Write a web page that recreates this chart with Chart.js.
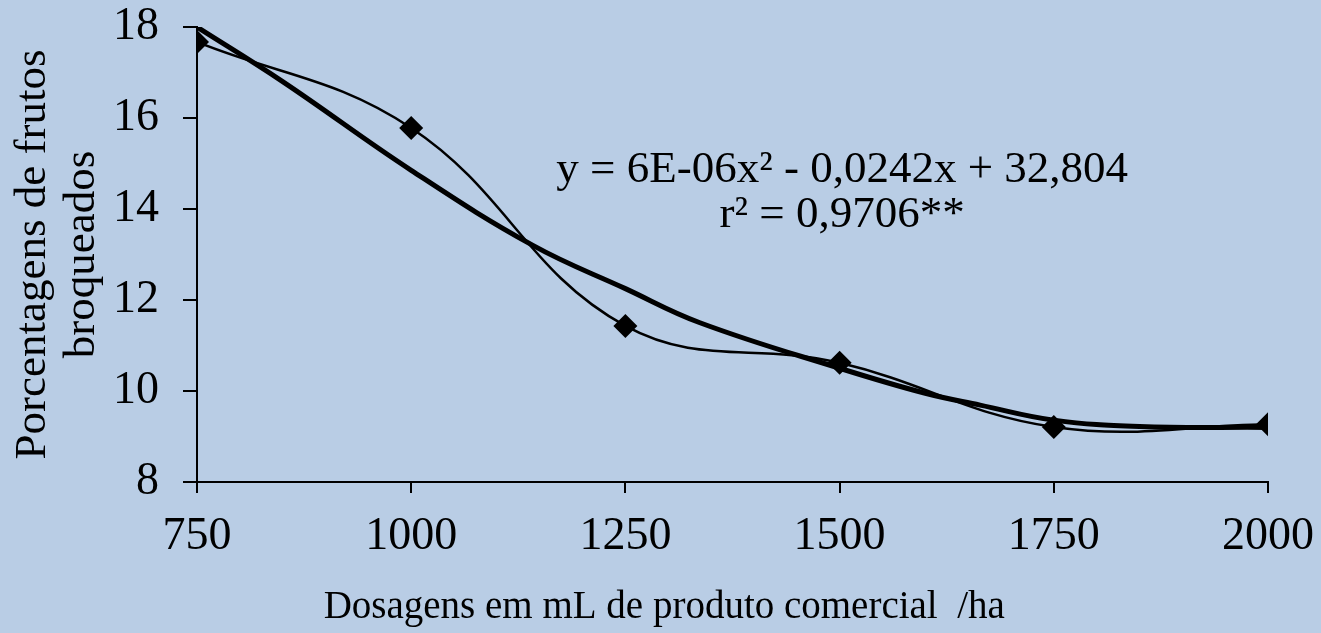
<!DOCTYPE html>
<html>
<head>
<meta charset="utf-8">
<script src="https://cdn.jsdelivr.net/npm/chart.js@4"></script>
<style>
  html, body { margin: 0; padding: 0; background: #b9cde5; }
  #wrap { width: 1321px; height: 633px; }
</style>
</head>
<body>
<div id="wrap"><canvas id="c"></canvas></div>
<script>
// --- DATA ---
const doses = [750, 1000, 1250, 1500, 1750, 2000];
const observed = [17.67, 15.78, 11.43, 10.62, 9.21, 9.27];
// thick fitted curve
const fitX = [750, 850, 1000, 1142, 1250, 1337, 1500, 1600, 1664, 1750, 1850, 2000];
const fitY = [18.0, 16.8, 14.85, 13.2, 12.25, 11.5, 10.5, 9.95, 9.69, 9.36, 9.22, 9.2];
const xTicks = [750, 1000, 1250, 1500, 1750, 2000];
const yTicks = [8, 10, 12, 14, 16, 18];
const eqLines = ['y = 6E-06x\u00b2 - 0,0242x + 32,804', 'r\u00b2 = 0,9706**'];

const FONT = '"Liberation Serif", "Times New Roman", serif';

// equation label drawn at data position
const eqPlugin = {
    id: 'eq',
    afterDatasetsDraw(chart) {
        const { ctx, scales: { x, y } } = chart;
        const cx = x.getPixelForValue(1503);
        ctx.save();
        ctx.fillStyle = '#000';
        ctx.font = `45px ${FONT}`;
        ctx.textAlign = 'center';
        ctx.textBaseline = 'alphabetic';
        ctx.fillText(eqLines[0], cx, y.getPixelForValue(14.6));
        ctx.fillText(eqLines[1], cx, y.getPixelForValue(13.6));
        ctx.restore();
    }
};

new Chart(document.getElementById('c'), {
    type: 'scatter',
    data: {
        datasets: [
            { label: 'fit', data: fitX.map((v, i) => ({ x: v, y: fitY[i] })), showLine: true, borderColor: '#000', borderWidth: 5, pointRadius: 0, tension: 0.4, order: 2 },
            { label: 'obs', data: doses.map((v, i) => ({ x: v, y: observed[i] })), showLine: true, borderColor: '#000', borderWidth: 2.5, backgroundColor: '#000', pointStyle: 'rectRot', pointRadius: 12, pointBorderWidth: 0, tension: 0.4, order: 1 }
        ]
    },
    options: {
        responsive: true,
        maintainAspectRatio: false,
        animation: false,
        layout: { padding: { left: 8, right: 53, top: 27, bottom: 0 } },
        plugins: { legend: { display: false }, tooltip: { enabled: false } },
        scales: {
            x: {
                type: 'linear', min: 750, max: 2000,
                afterBuildTicks: s => { s.ticks = xTicks.map(v => ({ value: v })); },
                afterFit: s => { s.height = 151; s.paddingLeft = 0; s.paddingRight = 0; },
                border: { color: '#000', width: 2 },
                grid: { drawOnChartArea: false, color: '#000', lineWidth: 2, tickLength: 11 },
                ticks: { color: '#000', font: { family: FONT, size: 46 }, padding: 16, maxRotation: 0, callback: v => String(v) },
                title: { display: true, text: 'Dosagens em mL de produto comercial  /ha\u2003\u2003\u2003\u2002', color: '#000', font: { family: FONT, size: 39 }, padding: { top: 0, bottom: 2 } }
            },
            y: {
                min: 8, max: 18,
                afterBuildTicks: s => { s.ticks = yTicks.map(v => ({ value: v })); },
                afterFit: s => { s.width = 189; s.paddingTop = 0; s.paddingBottom = 0; },
                border: { color: '#000', width: 2 },
                grid: { drawOnChartArea: false, color: '#000', lineWidth: 2, tickLength: 14 },
                ticks: { color: '#000', font: { family: FONT, size: 46 }, padding: 24, callback: v => String(v) },
                title: { display: true, text: ['Porcentagens de frutos', 'broqueados'], color: '#000', font: { family: FONT, size: 45, lineHeight: 1.1 }, padding: 0 }
            }
        }
    },
    plugins: [eqPlugin]
});
</script>
</body>
</html>
